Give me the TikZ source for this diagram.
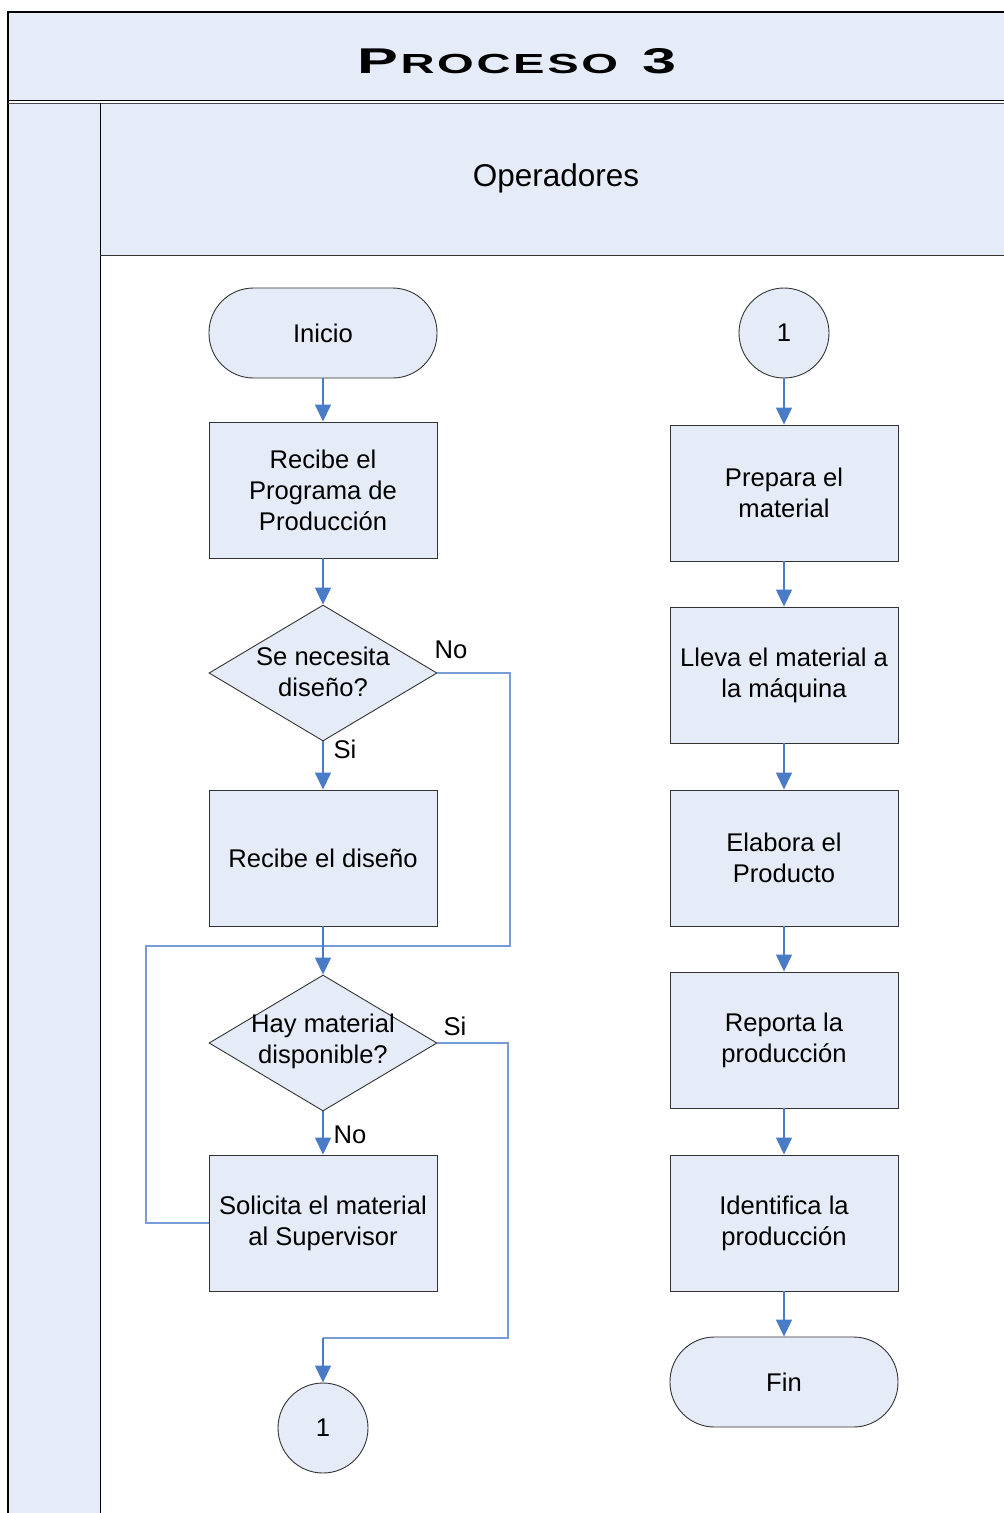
\documentclass[tikz,border=0pt]{standalone}
\usepackage{fontspec}
\usepackage{graphicx}
\setmainfont{Liberation Sans}
\usetikzlibrary{arrows.meta,shapes.geometric}
\definecolor{lane}{RGB}{230,236,247}
\definecolor{conn}{RGB}{74,123,198}
\definecolor{loopc}{RGB}{120,158,218}
\newcommand\bodyfnt{\fontsize{25.6}{31}\selectfont}
\begin{document}
\begin{tikzpicture}[x=1pt,y=-1pt,
  box/.style={draw=black!80, line width=0.9pt, fill=lane, minimum width=228pt, minimum height=136pt, inner sep=0pt, align=center, font=\bodyfnt},
  term/.style={box, minimum height=90pt, rounded corners=44.5pt},
  conncirc/.style={draw=black!80, line width=0.9pt, fill=lane, circle, minimum size=90pt, inner sep=0pt, font=\bodyfnt},
  dec/.style={draw=black!80, line width=0.9pt, fill=lane, diamond, minimum width=228pt, minimum height=136pt, inner sep=0pt},
  dectext/.style={align=center, font=\bodyfnt, inner sep=0pt},
  arr/.style={draw=conn, line width=1.4pt, -{Triangle[width=16pt,length=17pt]}},
  lp/.style={draw=loopc, line width=1.2pt},
  lbl/.style={font=\bodyfnt, inner sep=0pt}]
\useasboundingbox (0,0) rectangle (1004,1513);
% frame
\fill[lane] (8,12) rectangle (1012,100);
\fill[lane] (8,103) rectangle (100,1520);
\fill[lane] (100,103) rectangle (1012,255);
\draw[line width=1.2pt] (1012,12) -- (8,12) -- (8,1520);
\draw[line width=1pt] (8,100) -- (1012,100);
\draw[line width=1pt, black!70] (8,103) -- (1012,103);
\draw[line width=1pt] (100,103) -- (100,1520);
\draw[line width=1pt, black!80] (100,255) -- (1012,255);
\node[inner sep=0pt] (title) at (517,61.5) {\resizebox{318pt}{25pt}{\bfseries\fontsize{35}{35}\selectfont P\kern1pt\fontsize{27}{27}\selectfont R\kern1.5pt O\kern1.5pt C\kern1.5pt E\kern1.5pt S\kern1.5pt O\fontsize{35}{35}\selectfont\ \kern4pt 3}};
\node[font=\fontsize{31.5}{36}\selectfont, inner sep=0pt] (lane) at (556,178) {Operadores};
% left column
\node[term] (ini) at (323,333) {Inicio};
\node[box] (r1) at (323,490) {Recibe el\\Programa de\\Producción};
\node[dec] (d1) at (323,673) {};
\node[dectext] (d1t) at (323,671.5) {Se necesita\\diseño?};
\node[box] (r2) at (323,858) {Recibe el diseño};
\node[dec] (d2) at (323,1043) {};
\node[dectext] (d2t) at (323,1041.5) {Hay material\\disponible?};
\node[box] (sol) at (323,1223) {Solicita el material\\al Supervisor};
\node[conncirc] (c1) at (323,1428) {1};
% right column
\node[conncirc] (c2) at (784,333) {1};
\node[box] (p1) at (784,493) {Prepara el\\material};
\node[box] (p2) at (784,675) {Lleva el material a\\la máquina};
\node[box] (p3) at (784,858) {Elabora el\\Producto};
\node[box] (p4) at (784,1040) {Reporta la\\producción};
\node[box] (p5) at (784,1223) {Identifica la\\producción};
\node[term] (fin) at (784,1382) {Fin};
% connectors left
\coordinate (j) at (323,946);
\coordinate (m1) at (510,946);
\coordinate (m2) at (146,946);
\coordinate (m3) at (508,1338);
\coordinate (k) at (323,1338);
\draw[lp] (d1.east) -| (m1) -- (j);
\draw[lp] (sol.west) -| (m2) -- (j);
\draw[lp] (d2.east) -| (m3) -- (k);
\draw[arr] (ini) -- (r1);
\draw[arr] (r1) -- (d1);
\draw[arr] (d1) -- (r2);
\draw[arr] (r2) -- (d2);
\draw[arr] (d2) -- (sol);
\draw[arr] (k) -- (c1);
% connectors right
\draw[arr] (c2) -- (p1);
\draw[arr] (p1) -- (p2);
\draw[arr] (p2) -- (p3);
\draw[arr] (p3) -- (p4);
\draw[arr] (p4) -- (p5);
\draw[arr] (p5) -- (fin);
% labels
\node[lbl] (no1) at (451,650) {No};
\node[lbl] (si1) at (345,749) {Si};
\node[lbl] (si2) at (455,1026) {Si};
\node[lbl] (no2) at (350,1135) {No};
\end{tikzpicture}
\end{document}
